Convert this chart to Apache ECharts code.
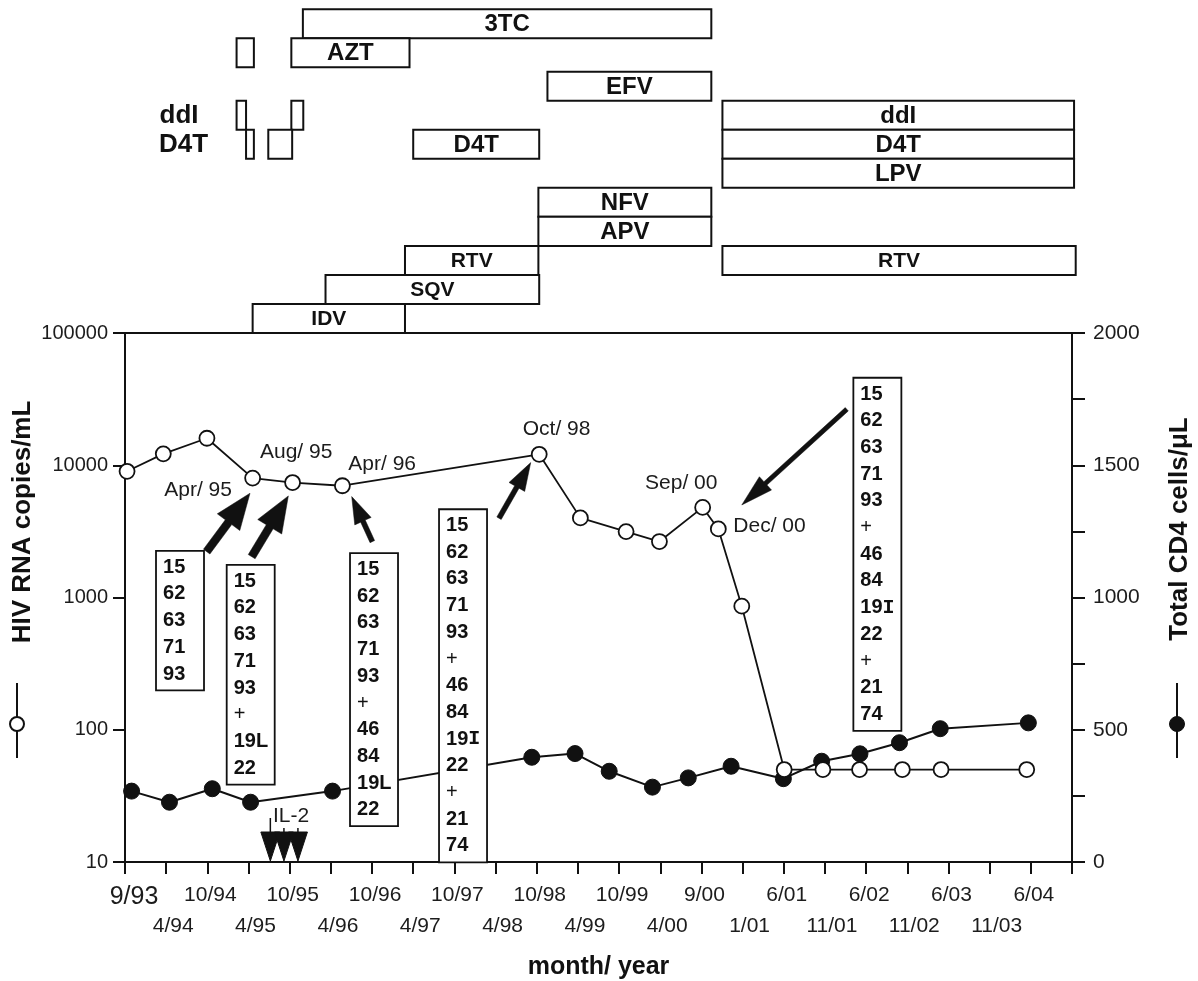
<!DOCTYPE html>
<html><head><meta charset="utf-8">
<script src="https://cdn.jsdelivr.net/npm/echarts@6/dist/echarts.min.js"></script>
<style>html,body{margin:0;padding:0;background:#fff}#c{width:1198px;height:981px}</style>
</head><body><div id="c"></div>
<script>
// ================= DATA =================
// x axis: one tick per index, labels alternate upper/lower row
const xTickLabels = ['9/93','4/94','10/94','4/95','10/95','4/96','10/96','4/97','10/97','4/98','10/98','4/99','10/99','4/00','9/00','1/01','6/01','11/01','6/02','11/02','6/03','11/03','6/04',''];

// HIV RNA copies/mL (open circles, log axis)
const rnaX = [0.05, 0.93, 1.99, 3.10, 4.07, 5.28, 10.06, 11.06, 12.17, 12.98, 14.03, 14.41, 14.98, 16.01, 16.95, 17.84, 18.88, 19.82, 21.90];
const rnaY = [9000, 12200, 16000, 8000, 7400, 7000, 12100, 4000, 3150, 2650, 4800, 3300, 860, 50, 50, 50, 50, 50, 50];

// Total CD4 cells/uL (filled circles, right axis)
const cd4X = [0.16, 1.08, 2.12, 3.05, 5.04, 9.88, 10.93, 11.76, 12.81, 13.68, 14.72, 15.99, 16.92, 17.85, 18.81, 19.80, 21.94];
const cd4Y = [268, 226, 277, 226, 268, 396, 410, 343, 283, 318, 362, 315, 381, 409, 451, 504, 526];

// drug regimen timeline
const drugRows = ['3TC','AZT','EFV','ddI','D4T','LPV','NFV','APV','RTV','SQV','IDV'];
const regimenRow      = [0,    1,    1,    2,     3,    3,    3,     4,    4,    4,    4,     5,     6,     7,     8,    8,     9,    10];
const regimenStart    = [4.32, 2.71, 4.04, 10.26, 2.71, 4.04, 14.51, 2.94, 3.48, 7.00, 14.51, 14.51, 10.04, 10.04, 6.80, 14.51, 4.87, 3.10];
const regimenEnd      = [14.24,3.13, 6.91, 14.24, 2.94, 4.33, 23.05, 3.13, 4.06, 10.06,23.05, 23.05, 14.24, 14.24, 10.04,23.09, 10.06,6.80];
const regimenLabelled = [1,    0,    1,    1,     0,    0,    1,     0,    0,    1,    1,     1,     1,     1,     1,    1,     1,    1];
const rowLabelRows = [3, 4];

// IL-2 courses
const il2X = [3.53, 3.86, 4.20];

// dated annotations (x in tick units, y in copies/mL)
const noteText = ['Apr/ 95','Aug/ 95','Apr/ 96','Oct/ 98','Sep/ 00','Dec/ 00','IL-2'];
const noteX = [0.953, 3.279, 5.424, 9.660, 12.63, 14.775, 3.595];
const noteY = [6430, 12450, 10230, 18700, 7310, 3490, 22.1];

// resistance mutation boxes (top-left anchor in data units)
const mutationSets = [
  ['15','62','63','71','93'],
  ['15','62','63','71','93','+','19L','22'],
  ['15','62','63','71','93','+','46','84','19L','22'],
  ['15','62','63','71','93','+','46','84','19I','22','+','21','74'],
  ['15','62','63','71','93','+','46','84','19I','22','+','21','74']
];
const mutationBoxX = [0.753, 2.47, 5.465, 7.627, 17.69];
const mutationBoxY = [2250, 1763, 2162, 4650, 45900];

// arrows from boxes to the sampled points
const arrowFromX = [1.984, 3.077, 6.007, 9.084, 17.53];
const arrowFromY = [2223, 2037, 2646, 3975, 26500];
const arrowToX   = [3.036, 3.967, 5.506, 9.854, 14.98];
const arrowToY   = [6140, 5860, 5795, 10470, 5010];

// ================= STYLE =================
const FONT = '"Liberation Sans", Arial, Helvetica, sans-serif';
const INK = '#111';
const TXT = '#1c1c1c';
const ARROW_STYLE = [
  {shaft: 8, headLen: 36, headHalf: 14},
  {shaft: 8, headLen: 36, headHalf: 14},
  {shaft: 5, headLen: 27, headHalf: 9},
  {shaft: 5, headLen: 28, headHalf: 9},
  {shaft: 4.5, headLen: 32, headHalf: 9}
];
const SMALL_DRUG_LABEL = {RTV: 1, SQV: 1, IDV: 1};
const BOX_LH = 26.7, BOX_W = 48;

const chart = echarts.init(document.getElementById('c'), null, {renderer: 'canvas'});

function drugRender(params, api) {
  const i = api.value(3), r = api.value(2);
  const top = r - (r < 2 ? 0.15 : 0);
  const p0 = api.coord([api.value(0), top]);
  const p1 = api.coord([api.value(1), top + 1]);
  const children = [{
    type: 'rect',
    shape: {x: p0[0], y: p0[1], width: p1[0] - p0[0], height: p1[1] - p0[1]},
    style: {fill: '#fff', stroke: INK, lineWidth: 2}
  }];
  if (regimenLabelled[i]) {
    const name = drugRows[r];
    children.push({
      type: 'text',
      style: {
        x: (p0[0] + p1[0]) / 2, y: (p0[1] + p1[1]) / 2 + 1,
        text: name, align: 'center', verticalAlign: 'middle',
        font: 'bold ' + (SMALL_DRUG_LABEL[name] ? 21 : 24) + 'px ' + FONT, fill: INK
      }
    });
  }
  return {type: 'group', children};
}

function rowLabelRender(params, api) {
  const r = api.value(1);
  const p = api.coord([api.value(0), r + 0.5]);
  return {type: 'text', style: {x: p[0] - 38, y: p[1] + 1, text: drugRows[r], align: 'right', verticalAlign: 'middle', font: 'bold 26px ' + FONT, fill: INK}};
}

function boxRender(params, api) {
  const i = api.value(2);
  const p = api.coord([api.value(0), api.value(1)]);
  const lines = mutationSets[i];
  const h = lines.length * BOX_LH + 6;
  const txt = lines.map(function (s) {
    if (s === '+') return '{p|+}';
    if (/I$/.test(s)) return '{b|' + s.slice(0, -1) + '}{s|I}';
    return '{b|' + s + '}';
  }).join('\n');
  return {type: 'group', children: [
    {type: 'rect', shape: {x: p[0], y: p[1], width: BOX_W, height: h}, style: {fill: '#fff', stroke: INK, lineWidth: 1.8}},
    {type: 'text', style: {
      x: p[0] + 7, y: p[1] + 3, text: txt, align: 'left', verticalAlign: 'top', fill: INK,
      rich: {
        b: {font: 'bold 20px ' + FONT, lineHeight: BOX_LH, fill: INK},
        p: {font: '20px ' + FONT, lineHeight: BOX_LH, fill: INK},
        s: {font: 'bold 20px "Liberation Mono", "DejaVu Sans Mono", monospace', lineHeight: BOX_LH, fill: INK}
      }
    }}
  ]};
}

function arrowRender(params, api) {
  const i = api.value(4);
  const a = api.coord([api.value(0), api.value(1)]);
  const b = api.coord([api.value(2), api.value(3)]);
  const st = ARROW_STYLE[i];
  const dx = b[0] - a[0], dy = b[1] - a[1];
  const len = Math.sqrt(dx * dx + dy * dy);
  const ux = dx / len, uy = dy / len, nx = -uy, ny = ux;
  const bx = b[0] - ux * st.headLen, by = b[1] - uy * st.headLen;
  const s = st.shaft / 2, H = st.headHalf;
  const pts = [
    [a[0] + nx * s, a[1] + ny * s], [bx + nx * s, by + ny * s], [bx + nx * H, by + ny * H],
    [b[0], b[1]],
    [bx - nx * H, by - ny * H], [bx - nx * s, by - ny * s], [a[0] - nx * s, a[1] - ny * s]
  ];
  return {type: 'polygon', shape: {points: pts}, style: {fill: INK, stroke: INK, lineWidth: 0.5}};
}

function noteRender(params, api) {
  const i = api.value(2);
  const p = api.coord([api.value(0), api.value(1)]);
  return {type: 'text', style: {x: p[0], y: p[1], text: noteText[i], align: 'left', verticalAlign: 'middle', font: '21px ' + FONT, fill: TXT}};
}

function il2Render(params, api) {
  const p = api.coord([api.value(0), api.value(1)]);
  const i = params.dataIndex;
  const x = p[0], yb = p[1] - 1;
  const stemTop = i === 0 ? yb - 43 : yb - 33;
  return {type: 'group', children: [
    {type: 'line', shape: {x1: x, y1: stemTop, x2: x, y2: yb - 25}, style: {stroke: INK, lineWidth: 1.5}},
    {type: 'polygon', shape: {points: [[x - 9.5, yb - 29], [x + 9.5, yb - 29], [x, yb]]}, style: {fill: INK, stroke: INK, lineWidth: 1}}
  ]};
}

// legend-like keys and rotated titles (decorations)
const graphic = [
  {type: 'text', x: 23, y: 522, rotation: Math.PI / 2, style: {text: 'HIV RNA copies/mL', align: 'center', verticalAlign: 'middle', font: 'bold 26px ' + FONT, fill: INK}},
  {type: 'text', x: 1180, y: 529, rotation: Math.PI / 2, style: {text: 'Total CD4 cells/\u03bcL', align: 'center', verticalAlign: 'middle', font: 'bold 26px ' + FONT, fill: INK}},
  {type: 'line', shape: {x1: 17, y1: 683, x2: 17, y2: 758}, style: {stroke: INK, lineWidth: 2}},
  {type: 'circle', shape: {cx: 17, cy: 724, r: 7}, style: {fill: '#fff', stroke: INK, lineWidth: 2}},
  {type: 'line', shape: {x1: 1177, y1: 683, x2: 1177, y2: 758}, style: {stroke: INK, lineWidth: 2}},
  {type: 'circle', shape: {cx: 1177, cy: 724, r: 7.5}, style: {fill: INK, stroke: INK, lineWidth: 1}}
];

function tickLabel(row) {
  return function (v) {
    const i = Math.round(v);
    const t = xTickLabels[i];
    if (!t || i % 2 !== row) return '';
    return i === 0 ? '{big|' + t + '}' : t;
  };
}

const option = {
  backgroundColor: '#fff',
  animation: false,
  textStyle: {fontFamily: FONT},
  graphic: graphic,
  grid: [
    {left: 125, top: 333, width: 947, height: 529, show: true, borderColor: INK, borderWidth: 2, backgroundColor: 'transparent', containLabel: false, outerBoundsMode: 'none'},
    {left: 125, top: 9.3, width: 947, height: 323.7, show: false, containLabel: false, outerBoundsMode: 'none'}
  ],
  xAxis: [
    {
      type: 'value', gridIndex: 0, position: 'bottom', min: 0, max: 23, interval: 1,
      axisLine: {show: true, onZero: false, lineStyle: {color: INK, width: 2}},
      axisTick: {show: true, inside: false, length: 12, lineStyle: {color: INK, width: 2}},
      splitLine: {show: false},
      axisLabel: {
        margin: 23, color: TXT, fontSize: 21, fontFamily: FONT, padding: [0, 0, 0, 6],
        showMinLabel: true, showMaxLabel: true, hideOverlap: false,
        formatter: tickLabel(0),
        rich: {big: {fontSize: 25, fontFamily: FONT, color: TXT, padding: [0, 0, 0, 12]}}
      },
      name: 'month/ year', nameLocation: 'middle', nameGap: 93,
      nameTextStyle: {fontSize: 25, fontWeight: 'bold', color: INK, fontFamily: FONT}
    },
    {type: 'value', gridIndex: 1, min: 0, max: 23, show: false, axisLine: {onZero: false}},
    {
      type: 'value', gridIndex: 0, position: 'bottom', offset: 0, min: 0, max: 23, interval: 1,
      axisLine: {show: false, onZero: false}, axisTick: {show: false}, splitLine: {show: false},
      axisLabel: {
        margin: 54, color: TXT, fontSize: 21, fontFamily: FONT, padding: [0, 0, 0, 14],
        showMinLabel: true, showMaxLabel: true, hideOverlap: false,
        formatter: tickLabel(1)
      }
    }
  ],
  yAxis: [
    {
      type: 'log', logBase: 10, gridIndex: 0, position: 'left', min: 10, max: 100000,
      axisLine: {show: true, onZero: false, lineStyle: {color: INK, width: 2}},
      axisTick: {show: true, inside: false, length: 12, lineStyle: {color: INK, width: 2}},
      minorTick: {show: false}, splitLine: {show: false},
      axisLabel: {margin: 17, fontSize: 20, color: TXT, fontFamily: FONT, formatter: function (v) { return String(Math.round(v)); }}
    },
    {
      type: 'value', gridIndex: 0, position: 'right', min: 0, max: 2000, interval: 250,
      axisLine: {show: true, onZero: false, lineStyle: {color: INK, width: 2}},
      axisTick: {show: true, inside: false, length: 13, lineStyle: {color: INK, width: 2}},
      splitLine: {show: false},
      axisLabel: {margin: 21, fontSize: 21, color: TXT, fontFamily: FONT, formatter: function (v) { return v % 500 === 0 ? String(v) : ''; }}
    },
    {type: 'value', gridIndex: 1, min: -0.15, max: 11, inverse: true, show: false, axisLine: {onZero: false}}
  ],
  series: [
    {
      name: 'Total CD4 cells/\u03bcL', type: 'line', xAxisIndex: 0, yAxisIndex: 1, z: 2,
      data: cd4X.map(function (x, i) { return [x, cd4Y[i]]; }),
      symbol: 'circle', symbolSize: 16,
      itemStyle: {color: INK, borderColor: INK, borderWidth: 1},
      lineStyle: {color: INK, width: 2}
    },
    {
      name: 'HIV RNA copies/mL', type: 'line', xAxisIndex: 0, yAxisIndex: 0, z: 3,
      data: rnaX.map(function (x, i) { return [x, rnaY[i]]; }),
      symbol: 'circle', symbolSize: 15,
      itemStyle: {color: '#fff', borderColor: INK, borderWidth: 1.8},
      lineStyle: {color: INK, width: 1.8}
    },
    {
      type: 'custom', xAxisIndex: 1, yAxisIndex: 2, z: 4, silent: true,
      data: regimenRow.map(function (r, i) { return [regimenStart[i], regimenEnd[i], r, i]; }),
      encode: {x: [0, 1], y: 2},
      renderItem: drugRender
    },
    {
      type: 'custom', xAxisIndex: 1, yAxisIndex: 2, z: 4, silent: true,
      data: rowLabelRows.map(function (r) {
        let m = Infinity;
        regimenRow.forEach(function (rr, i) { if (rr === r) m = Math.min(m, regimenStart[i]); });
        return [m, r];
      }),
      encode: {x: 0, y: 1},
      renderItem: rowLabelRender
    },
    {
      type: 'custom', xAxisIndex: 0, yAxisIndex: 0, z: 6, silent: true,
      data: mutationBoxX.map(function (x, i) { return [x, mutationBoxY[i], i]; }),
      encode: {x: 0, y: 1},
      renderItem: boxRender
    },
    {
      type: 'custom', xAxisIndex: 0, yAxisIndex: 0, z: 7, silent: true,
      data: arrowFromX.map(function (x, i) { return [x, arrowFromY[i], arrowToX[i], arrowToY[i], i]; }),
      encode: {x: [0, 2], y: [1, 3]},
      renderItem: arrowRender
    },
    {
      type: 'custom', xAxisIndex: 0, yAxisIndex: 0, z: 7, silent: true,
      data: noteX.map(function (x, i) { return [x, noteY[i], i]; }),
      encode: {x: 0, y: 1},
      renderItem: noteRender
    },
    {
      type: 'custom', xAxisIndex: 0, yAxisIndex: 0, z: 7, silent: true,
      data: il2X.map(function (x) { return [x, 10]; }),
      encode: {x: 0, y: 1},
      renderItem: il2Render
    }
  ]
};
chart.setOption(option);
</script>
</body></html>
